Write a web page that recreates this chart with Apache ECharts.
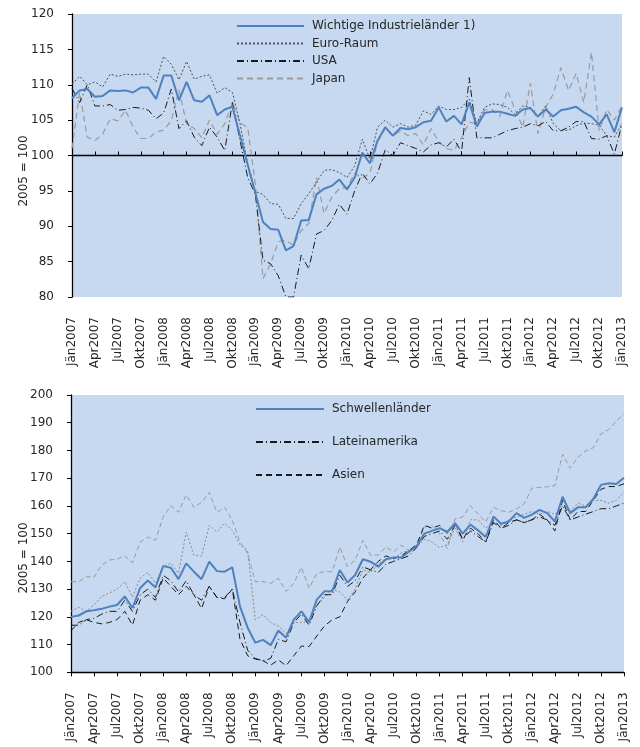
<!DOCTYPE html>
<html>
<head>
<meta charset="utf-8">
<title>Industrieproduktion</title>
<script src="https://cdn.jsdelivr.net/npm/echarts@6/dist/echarts.min.js"></script>
<style>
  body { margin: 0; background: #fff; }
  #main { width: 640px; height: 747px; }
</style>
</head>
<body>
<div id="main"></div>
<script>
var monate = ['Jän', 'Feb', 'Mär', 'Apr', 'Mai', 'Jun', 'Jul', 'Aug', 'Sep', 'Okt', 'Nov', 'Dez'];
var jahre = [2007, 2008, 2009, 2010, 2011, 2012, 2013];

// oberes Diagramm
var industrie = [108.1, 109.2, 109.4, 108.3, 108.4, 109.2, 109.1, 109.2, 108.9, 109.6, 109.6, 108.0,
  111.3, 111.3, 107.8, 110.4, 107.8, 107.6, 108.5, 105.7, 106.5, 106.9, 102.8, 98.7,
  94.7, 90.6, 89.6, 89.5, 86.6, 87.2, 90.8, 90.9, 94.5, 95.3, 95.7, 96.6,
  95.2, 96.9, 100.4, 98.9, 102.1, 104.0, 102.8, 103.9, 103.7, 104.0, 104.7, 104.9,
  106.8, 104.8, 105.6, 104.4, 107.5, 104.1, 106.0, 106.2, 106.2, 105.9, 105.6, 106.5,
  106.7, 105.5, 106.5, 105.5, 106.4, 106.6, 106.9, 106.1, 105.5, 104.4, 105.8, 103.3,
  106.8];
var euroRaum = [110.1, 111.2, 110.0, 110.4, 109.7, 111.5, 111.2, 111.5, 111.4, 111.5, 111.5, 110.4,
  114.0, 112.9, 110.7, 113.3, 110.8, 111.2, 111.4, 108.8, 109.6, 108.9, 104.5, 98.8,
  94.9, 94.5, 93.2, 93.1, 91.1, 91.1, 93.2, 94.6, 96.2, 97.9, 98.0, 97.6,
  96.9, 98.5, 102.3, 99.5, 104.0, 105.0, 104.0, 104.5, 104.0, 104.3, 106.3, 105.8,
  107.0, 106.5, 106.5, 106.8, 108.0, 104.6, 106.8, 107.3, 107.2, 106.8, 105.8, 107.0,
  106.8, 105.5, 107.0, 104.5, 103.5, 103.6, 104.2, 104.6, 104.5, 104.3, 102.8, 102.6,
  104.5];
var usa = [109.5, 107.5, 110.0, 107.0, 107.0, 107.2, 106.4, 106.5, 106.8, 106.7, 106.4, 105.2,
  106.0, 109.4, 103.8, 104.9, 102.6, 101.4, 104.0, 102.6, 100.7, 107.5, 102.1, 96.9,
  94.5, 85.2, 84.7, 83.0, 80.0, 80.0, 85.9, 84.0, 88.9, 89.4, 90.8, 93.1,
  91.7, 95.0, 97.5, 96.0, 97.5, 100.8, 100.0, 101.8, 101.4, 101.0, 100.5, 101.5,
  101.8, 101.2, 102.3, 100.5, 111.0, 102.5, 102.5, 102.5, 103.0, 103.5, 103.8, 104.0,
  104.5, 104.2, 104.8, 103.5, 103.5, 104.0, 104.8, 104.8, 102.4, 102.3, 102.8, 100.2,
  104.5];
var japan = [101.0, 108.9, 102.6, 102.1, 103.0, 105.2, 104.9, 106.4, 104.0, 102.4, 102.4, 103.3,
  103.6, 104.9, 109.3, 104.5, 103.8, 102.5, 105.0, 103.0, 104.5, 107.5, 104.6, 104.0,
  96.0, 82.6, 84.7, 87.8, 88.0, 87.3, 89.4, 90.4, 96.9, 91.8, 94.1, 95.3,
  95.5, 97.5, 96.8, 97.5, 102.0, 103.8, 102.8, 103.5, 102.8, 103.1, 101.5, 103.8,
  102.0, 101.0, 100.7, 102.5, 104.7, 104.5, 106.4, 106.5, 105.5, 109.2, 106.5, 104.0,
  110.2, 103.1, 106.8, 108.7, 112.4, 109.2, 111.6, 107.5, 114.6, 103.5, 106.5, 105.0,
  107.0];

// unteres Diagramm
var schwellen = [120.0, 120.5, 122.0, 122.4, 122.9, 123.7, 124.3, 127.4, 123.2, 130.4, 133.1, 130.6,
  138.3, 137.7, 133.6, 139.3, 136.3, 133.6, 139.9, 136.5, 136.3, 137.9, 123.8, 116.1,
  110.7, 111.7, 109.8, 115.1, 112.5, 119.0, 122.0, 118.1, 126.2, 129.2, 129.2, 136.9,
  132.4, 135.1, 140.8, 139.9, 138.1, 140.8, 141.4, 141.4, 143.5, 145.5, 150.0, 151.0,
  152.0, 150.6, 153.8, 150.0, 153.3, 151.2, 148.8, 156.2, 153.6, 154.4, 157.4, 155.7,
  156.9, 158.6, 157.4, 154.4, 163.3, 157.4, 159.5, 159.5, 162.5, 167.6, 168.2, 167.9,
  170.2];
var lateinamerika = [117, 117, 119, 119.5, 121, 122, 122, 126, 122, 128, 130, 127,
  135, 133, 129, 133, 128, 126, 131, 127, 127, 130, 118, 108,
  105, 104.2, 105, 111.9, 111, 117.9, 121, 117, 124, 128, 128, 135,
  131, 133, 138, 137, 136, 139, 140, 141, 142, 145, 149, 150,
  151, 148, 153, 148, 151, 149, 147, 154, 152, 153, 155, 154,
  155, 156, 155, 153, 160, 155, 156, 157, 158, 159, 159, 160,
  161];
var asien = [115, 118, 119, 118, 117.5, 118, 119, 122, 117, 126, 128, 126,
  134, 131, 128, 131, 128, 123, 131, 127, 126.5, 130, 112, 106,
  104.8, 104.2, 102.6, 104.5, 102.4, 106, 109.5, 109.3, 113.1, 116.7, 119, 120,
  125.6, 129, 134, 137, 140, 142, 141, 142, 144, 146, 153, 152,
  153, 150, 154, 148, 152, 150, 147, 155, 152, 154, 155, 154,
  155, 157, 155, 151, 162, 155, 158, 158, 162, 166, 167, 167,
  168];
var weitereA = [132.7, 132.7, 134.5, 134.3, 138.7, 140.5, 140.8, 142.0, 139.5, 147.0, 148.8, 147.6,
  156.0, 160.1, 157.7, 164.0, 159.5, 161.3, 164.9, 157.7, 159.5, 154.8, 147.0, 142.9,
  132.7, 132.7, 132.1, 133.9, 129.2, 132.1, 137.9, 130.4, 135.7, 136.3, 136.3, 145.2,
  138.1, 140.5, 147.6, 142.3, 142.3, 145.2, 143.5, 145.8, 144.0, 145.2, 152.4, 153.0,
  150.0, 144.6, 155.4, 156.0, 160.1, 157.1, 154.2, 159.5, 158.3, 157.7, 158.9, 160.7,
  166.4, 166.7, 166.9, 167.3, 178.6, 173.6, 177.6, 179.8, 181.0, 186.0, 187.5, 190.7,
  193.1];
var weitereB = [122, 123.5, 122, 124.4, 127.4, 128.6, 130, 132.7, 127.1, 133.9, 136.1, 132.1,
  138.3, 139.3, 135.7, 150.6, 142.3, 141.9, 153, 150.6, 153.8, 151.2, 146, 144,
  119, 120.8, 118, 116.7, 114, 118, 118, 118.5, 124, 127, 130, 129,
  126, 130, 137, 136, 139, 141, 141, 143, 144, 145, 148, 147,
  145, 146, 152, 147, 155, 155, 152, 154, 153, 155, 156, 157,
  158, 157, 158, 157, 160, 158, 161, 160, 162, 162, 161, 162,
  165];

var kategorien = [];
jahre.forEach(function (j) {
  monate.forEach(function (m, i) {
    if (j < 2013 || i === 0) kategorien.push(m + j);
  });
});

var schrift = 'DejaVu Sans';
var textFarbe = '#262626';

function linie(name, daten, farbe, breite, typ, xIdx, yIdx) {
  return {
    name: name,
    type: 'line',
    xAxisIndex: xIdx,
    yAxisIndex: yIdx,
    data: daten,
    symbol: 'none',
    lineStyle: { color: farbe, width: breite, type: typ },
    itemStyle: { color: farbe },
    z: name === 'Wichtige Industrieländer 1)' || name === 'Schwellenländer' ? 5 : 3
  };
}

function xAchse(grid, mitLabel, mitLinie, versatz) {
  return {
    type: 'category',
    gridIndex: grid,
    data: kategorien,
    boundaryGap: false,
    offset: versatz || 0,
    axisLine: { show: mitLinie, lineStyle: { color: '#000', width: 1.3 } },
    axisTick: { show: mitLinie, interval: 2, length: 4, lineStyle: { color: '#000' } },
    axisLabel: {
      show: mitLabel, rotate: 90, interval: 2, margin: 20,
      fontFamily: schrift, fontSize: 12, color: textFarbe
    },
    splitLine: { show: false }
  };
}

function yAchse(grid, min, max, schritt) {
  return {
    type: 'value',
    gridIndex: grid,
    min: min, max: max, interval: schritt,
    axisLine: { show: true, lineStyle: { color: '#000', width: 1.3 } },
    axisTick: { show: true, length: 4, lineStyle: { color: '#000' } },
    axisLabel: { margin: 18, fontFamily: schrift, fontSize: 12, color: textFarbe },
    splitLine: { show: false }
  };
}

var chart = echarts.init(document.getElementById('main'));
chart.setOption({
  animation: false,
  backgroundColor: '#fff',
  grid: [
    { left: 72, top: 14, width: 550, height: 283, show: true, backgroundColor: '#C6D9F1', borderWidth: 0 },
    { left: 71, top: 395, width: 553, height: 280, show: true, backgroundColor: '#C6D9F1', borderWidth: 0 }
  ],
  xAxis: [
    xAchse(0, true, false),
    xAchse(0, false, true, -141.5),
    xAchse(1, true, true)
  ],
  yAxis: [
    yAchse(0, 80, 120, 5),
    yAchse(1, 100, 200, 10)
  ],
  legend: [
    {
      data: ['Wichtige Industrieländer 1)', 'Euro-Raum', 'USA', 'Japan'],
      orient: 'vertical', left: 236, top: 20, padding: 0,
      itemWidth: 67, itemHeight: 14, itemGap: 5.5,
      itemStyle: { opacity: 0 },
      textStyle: { fontFamily: schrift, fontSize: 12, color: textFarbe, padding: [0, 0, 0, 3] }
    },
    {
      data: ['Schwellenländer', 'Lateinamerika', 'Asien'],
      orient: 'vertical', left: 255, top: 403, padding: 0,
      itemWidth: 68, itemHeight: 14, itemGap: 21,
      itemStyle: { opacity: 0 },
      textStyle: { fontFamily: schrift, fontSize: 12, color: textFarbe, padding: [0, 0, 0, 3] }
    }
  ],
  graphic: [
    { type: 'text', x: 24, y: 171, rotation: Math.PI / 2,
      style: { text: '2005 = 100', align: 'center', verticalAlign: 'middle', fill: textFarbe, font: '12px "DejaVu Sans"' } },
    { type: 'text', x: 24, y: 558, rotation: Math.PI / 2,
      style: { text: '2005 = 100', align: 'center', verticalAlign: 'middle', fill: textFarbe, font: '12px "DejaVu Sans"' } }
  ],
  series: [
    linie('Japan', japan, '#9a9a9a', 1.2, [6, 4], 0, 0),
    linie('USA', usa, '#1a1a1a', 1, [7, 3, 1, 3], 0, 0),
    linie('Euro-Raum', euroRaum, '#505050', 1, [2, 2], 0, 0),
    linie('Wichtige Industrieländer 1)', industrie, '#4F81BD', 2, 'solid', 0, 0),
    linie('weitereA', weitereA, '#9a9a9a', 1, [5, 3], 2, 1),
    linie('weitereB', weitereB, '#8a8a8a', 1, [2, 2], 2, 1),
    linie('Lateinamerika', lateinamerika, '#1a1a1a', 1, [7, 3, 1, 3], 2, 1),
    linie('Asien', asien, '#1a1a1a', 1, [6, 4], 2, 1),
    linie('Schwellenländer', schwellen, '#4F81BD', 2, 'solid', 2, 1)
  ]
});
</script>
</body>
</html>
